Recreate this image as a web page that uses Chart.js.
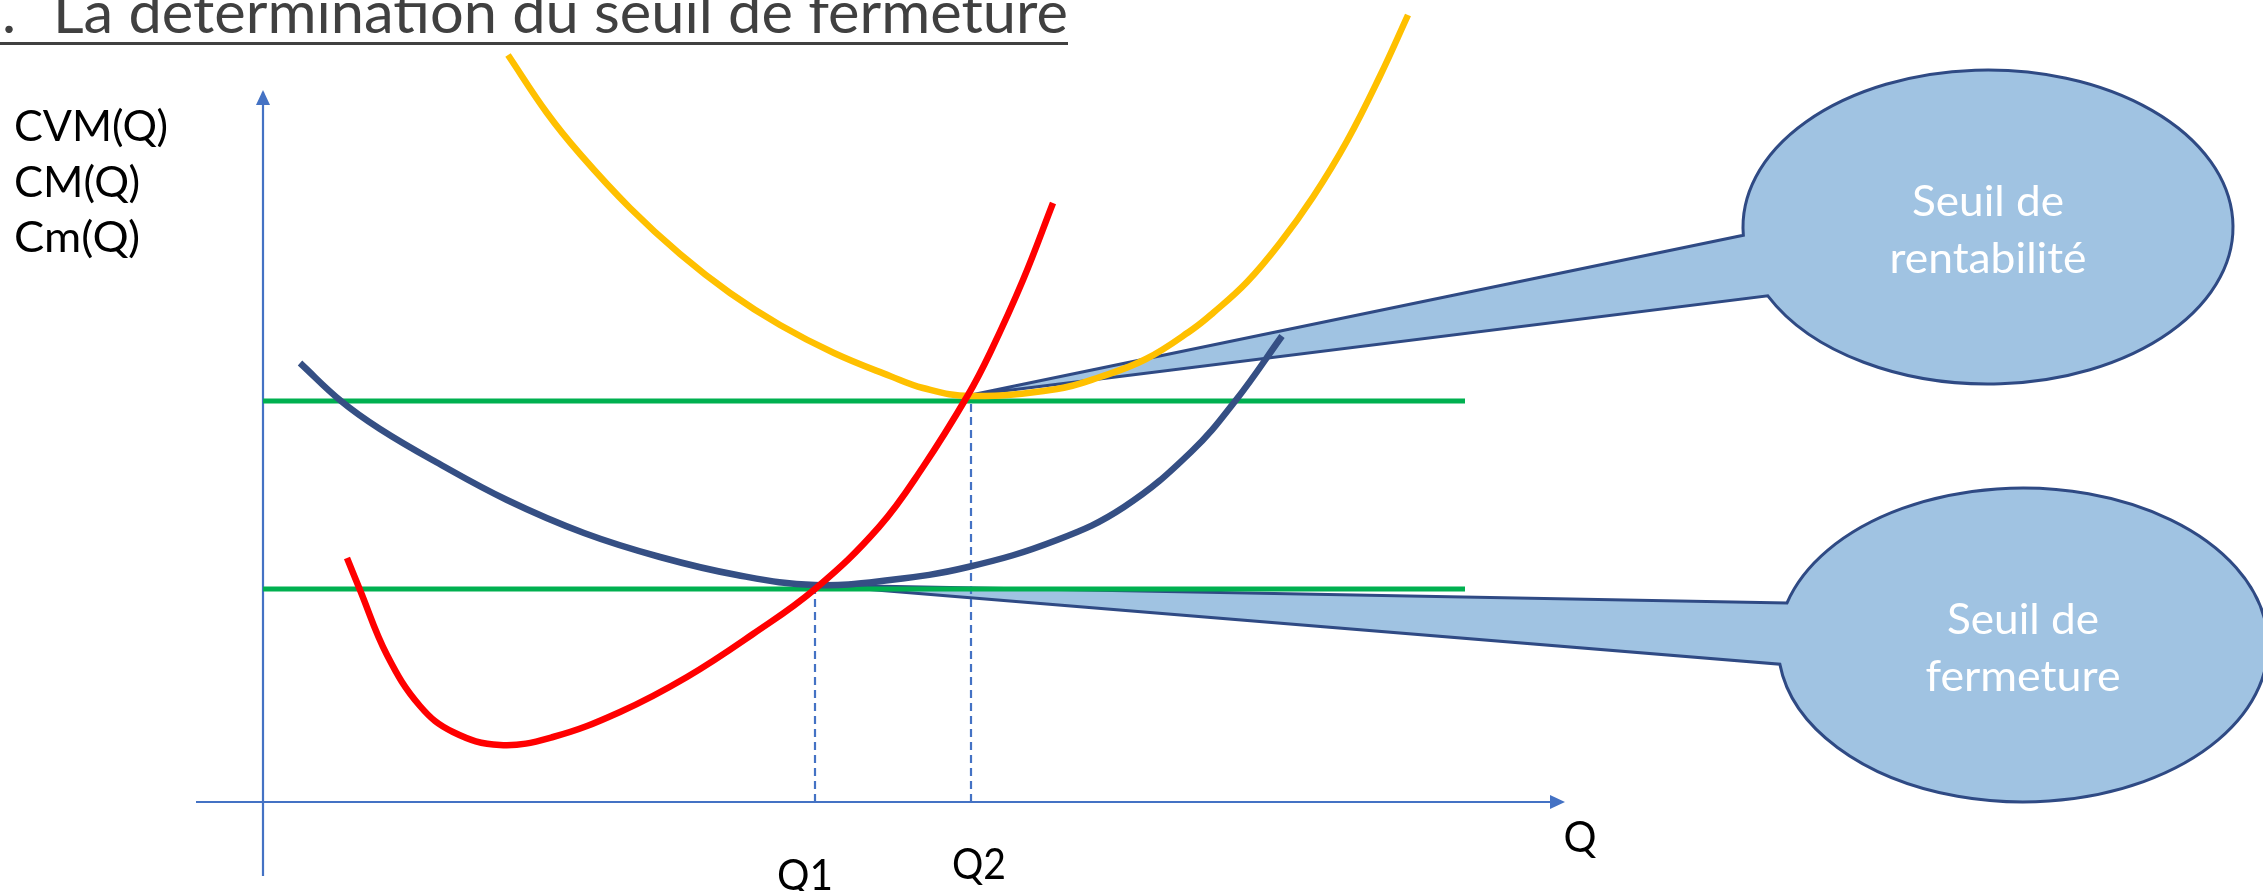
<!DOCTYPE html>
<html lang="fr">
<head>
<meta charset="utf-8">
<title>La détermination du seuil de fermeture</title>
<script src="https://cdn.jsdelivr.net/npm/chart.js@4.4.1/dist/chart.umd.min.js"></script>
<style>
  html, body { margin: 0; padding: 0; background: #ffffff; }
  #wrap { position: relative; width: 2263px; height: 891px; }
</style>
</head>
<body>
<div id="wrap"><canvas id="c"></canvas></div>
<script>
// ---- Données : quantités Q et niveaux de coût (unités arbitraires) ----
// Coût moyen CM(Q)
const qCM = [24.5, 28.4, 31.7, 36.7, 41.7, 46.7, 51.7, 57.1, 62.7, 66.0, 70.7, 79.4, 83.7, 88.3, 93.0, 95.0, 98.4, 101.7, 105.0, 108.4, 111.7, 114.5];
const cmValues = [74.7, 68.9, 64.8, 59.4, 54.8, 50.9, 47.7, 44.9, 42.6, 41.4, 40.6, 41.3, 42.5, 44.3, 47.3, 48.9, 52.0, 55.9, 60.5, 66.1, 72.6, 78.7];
// Coût variable moyen CVM(Q)
const qCVM = [3.7, 7.8, 11.7, 17.3, 24.4, 32.1, 39.7, 47.4, 55.2, 62.7, 70.5, 79.4, 86.1, 92.8, 97.3, 101.9];
const cvmValues = [43.9, 40.1, 37.3, 34.0, 30.2, 26.9, 24.5, 22.7, 21.7, 22.2, 23.5, 26.2, 29.5, 35.0, 40.2, 46.6];
// Coût marginal Cm(Q)
const qCmg = [8.4, 9.7, 12.4, 15.7, 19.0, 23.7, 29.0, 35.7, 42.4, 49.0, 55.2, 61.6, 66.0, 70.5, 72.7, 76.0, 79.0];
const cmgValues = [24.4, 21.2, 14.7, 9.6, 7.0, 5.7, 6.5, 9.0, 12.5, 16.8, 21.3, 27.5, 33.5, 40.7, 44.9, 52.2, 59.9];

// Seuils (rentabilité, fermeture) et leur étendue horizontale
const thresholdLevels = [40.1, 21.3];
const thresholdSpan = [0, 120.2];

// Quantités repères Q1 (min CVM) et Q2 (min CM)
const qMarks = [55.2, 70.8];
const qMarkLevels = [21.7, 40.7];
const qTickLabels = ['Q1', 'Q2'];

// Étendue des axes
const xAxisSpan = [-6.7, 130];
const yAxisSpan = [-7.4, 71];
const yAxisLabels = ['CVM(Q)', 'CM(Q)', 'Cm(Q)'];
const xAxisLabel = 'Q';

const titlePrefix = '1.';
const titleText = 'La détermination du seuil de fermeture';
const calloutTexts = [['Seuil de', 'rentabilité'], ['Seuil de', 'fermeture']];

// ---- Mise en forme ----
const FONT = 'Lato, "Open Sans", "DejaVu Sans", sans-serif';
const AXIS_COLOR = '#4472C4';
const CALLOUT_FILL = '#A0C3E2';
const CALLOUT_STROKE = '#2F4A84';

const pts = (xs, ys) => xs.map((x, i) => ({ x, y: ys[i] }));

// Bulles : centre, demi-axes (en unités des axes), angles de raccord de la pointe
const callouts = [
  { tip: [qMarks[1], qMarkLevels[1]], c: [172.5, 57.5], r: [24.5, 15.7], a0: 177, a1: 154, text: calloutTexts[0], widths: [152, 197] },
  { tip: [qMarks[0], qMarkLevels[0]], c: [176.0, 15.7], r: [24.5, 15.7], a0: 195.5, a1: 173, text: calloutTexts[1], widths: [152, 195] }
];

function fitText(ctx, txt, x, y, size, width, align, color) {
  ctx.save();
  ctx.font = `400 ${size}px ${FONT}`;
  const w = ctx.measureText(txt).width;
  const s = width ? width / w : 1;
  ctx.translate(x, y);
  ctx.scale(s, 1);
  ctx.textAlign = align;
  ctx.textBaseline = 'alphabetic';
  ctx.fillStyle = color;
  ctx.fillText(txt, 0, 0);
  ctx.restore();
  return s;
}

const calloutPlugin = {
  id: 'callouts',
  beforeDatasetsDraw(chart) {
    const { ctx } = chart;
    const xs = chart.scales.x, ys = chart.scales.y;
    callouts.forEach(co => {
      const tx = xs.getPixelForValue(co.tip[0]), ty = ys.getPixelForValue(co.tip[1]);
      const cx = xs.getPixelForValue(co.c[0]), cy = ys.getPixelForValue(co.c[1]);
      const rx = xs.getPixelForValue(co.c[0] + co.r[0]) - cx;
      const ry = cy - ys.getPixelForValue(co.c[1] + co.r[1]);
      const a0 = co.a0 * Math.PI / 180, a1 = (co.a1 + 360) * Math.PI / 180;
      ctx.save();
      ctx.beginPath();
      ctx.moveTo(tx, ty);
      ctx.lineTo(cx + rx * Math.cos(a0), cy + ry * Math.sin(a0));
      ctx.ellipse(cx, cy, rx, ry, 0, a0, a1, false);
      ctx.closePath();
      ctx.fillStyle = CALLOUT_FILL;
      ctx.fill();
      ctx.lineWidth = 3;
      ctx.lineJoin = 'miter';
      ctx.strokeStyle = CALLOUT_STROKE;
      ctx.stroke();
      fitText(ctx, co.text[0], cx, cy - 11, 43, co.widths[0], 'center', '#ffffff');
      fitText(ctx, co.text[1], cx, cy + 46, 43, co.widths[1], 'center', '#ffffff');
      ctx.restore();
    });
  }
};

const annotationPlugin = {
  id: 'annotations',
  afterDatasetsDraw(chart) {
    const { ctx } = chart;
    const xs = chart.scales.x, ys = chart.scales.y;
    ctx.save();
    // pointes de flèche des axes
    ctx.fillStyle = AXIS_COLOR;
    const ax = xs.getPixelForValue(xAxisSpan[1]), ay = ys.getPixelForValue(0);
    ctx.beginPath();
    ctx.moveTo(ax + 2, ay); ctx.lineTo(ax - 13, ay - 7); ctx.lineTo(ax - 13, ay + 7); ctx.closePath(); ctx.fill();
    const bx = xs.getPixelForValue(0), by = ys.getPixelForValue(yAxisSpan[1]);
    ctx.beginPath();
    ctx.moveTo(bx, by - 2); ctx.lineTo(bx - 7, by + 13); ctx.lineTo(bx + 7, by + 13); ctx.closePath(); ctx.fill();

    // libellés de l'axe vertical
    const yl = [[141, 154], [197, 126], [252, 126]];
    yAxisLabels.forEach((t, i) => fitText(ctx, t, 14, yl[i][0], 42, yl[i][1], 'left', '#000000'));

    // libellés Q1, Q2 et Q
    const qOff = [-10, 8], qBase = [890, 879], qW = [56, 54];
    qTickLabels.forEach((t, i) => fitText(ctx, t, xs.getPixelForValue(qMarks[i]) + qOff[i], qBase[i], 42, qW[i], 'center', '#000000'));
    fitText(ctx, xAxisLabel, ax + 17, 852, 42, 33, 'center', '#000000');

    // titre souligné
    ctx.font = `400 58px ${FONT}`;
    const s = 1015 / ctx.measureText(titleText).width;
    fitText(ctx, titleText, 53, 33, 58, 1015, 'left', '#404040');
    ctx.save();
    ctx.translate(16, 33); ctx.scale(s, 1);
    ctx.font = `400 58px ${FONT}`; ctx.textAlign = 'right'; ctx.fillStyle = '#404040';
    ctx.fillText(titlePrefix, 0, 0);
    ctx.restore();
    ctx.fillStyle = '#404040';
    ctx.fillRect(0, 42, 1068, 3);
    ctx.restore();
  }
};

const lineDs = (label, data, color, width, order, extra) => Object.assign({
  label, data, borderColor: color, backgroundColor: color, borderWidth: width,
  pointRadius: 0, fill: false, order, borderCapStyle: 'butt', tension: 0
}, extra || {});

const datasets = [
  lineDs('Cm(Q)', pts(qCmg, cmgValues), '#FF0000', 6.5, 1, { tension: 0.4 }),
  lineDs('CVM(Q)', pts(qCVM, cvmValues), '#354F84', 6.5, 2, { tension: 0.4 }),
  lineDs('CM(Q)', pts(qCM, cmValues), '#FFC000', 6.5, 3, { tension: 0.4 }),
  ...thresholdLevels.map((lv, i) => lineDs('seuil ' + (i + 1), pts(thresholdSpan, [lv, lv]), '#00B050', 5, 4)),
  ...qMarks.map((q, i) => lineDs(qTickLabels[i], pts([q, q], [0, qMarkLevels[i]]), AXIS_COLOR, 2.2, 5, { borderDash: [8, 5] })),
  lineDs('axe Q', pts(xAxisSpan, [0, 0]), AXIS_COLOR, 2.2, 6),
  lineDs('axe coûts', pts([0, 0], yAxisSpan), AXIS_COLOR, 2.2, 6)
];

new Chart(document.getElementById('c'), {
  type: 'line',
  data: { datasets },
  options: {
    responsive: true,
    maintainAspectRatio: false,
    animation: false,
    layout: { padding: 0 },
    scales: {
      x: { type: 'linear', min: -26.3, max: 200, display: false },
      y: { type: 'linear', min: -8.9, max: 80.2, display: false }
    },
    plugins: { legend: { display: false }, tooltip: { enabled: false } }
  },
  plugins: [calloutPlugin, annotationPlugin]
});
</script>
</body>
</html>
